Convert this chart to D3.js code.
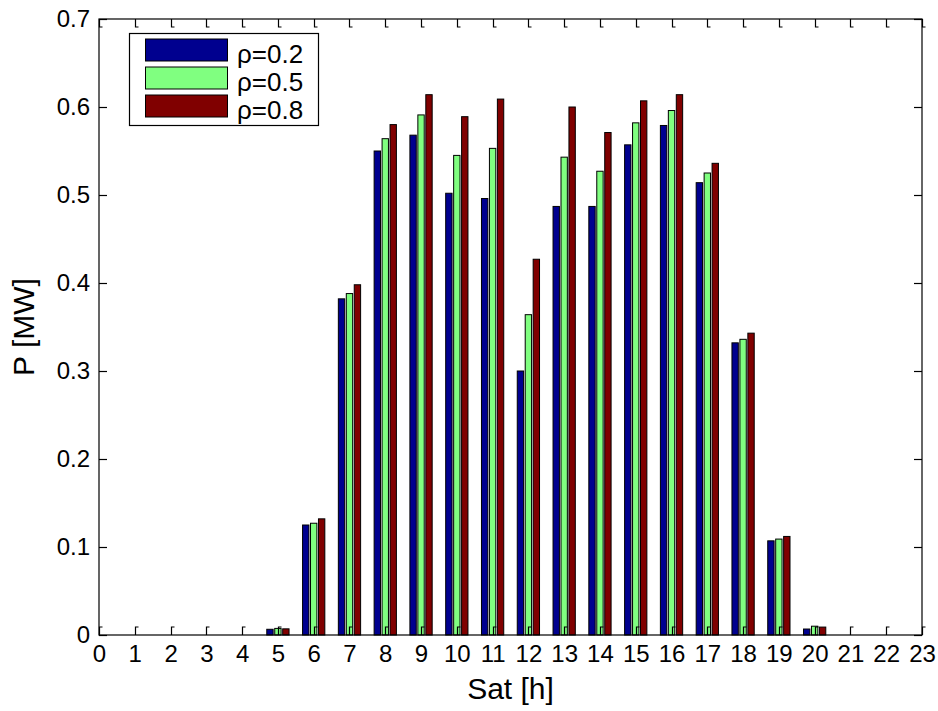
<!DOCTYPE html>
<html><head><meta charset="utf-8">
<script src="https://cdn.jsdelivr.net/npm/d3@7"></script>
<style>body{margin:0;background:#fff}svg{display:block}text{font-family:"Liberation Sans",Arial,sans-serif;fill:#000}</style>
</head><body>
<script>
const hours = [1,2,3,4,5,6,7,8,9,10,11,12,13,14,15,16,17,18,19,20,21,22];
const seriesNames = ["ρ=0.2","ρ=0.5","ρ=0.8"];
const rho02 = [0,0,0,0,0.0065,0.125,0.382,0.550,0.568,0.502,0.496,0.300,0.487,0.487,0.557,0.579,0.514,0.332,0.107,0.0068,0,0];
const rho05 = [0,0,0,0,0.0075,0.127,0.388,0.564,0.591,0.545,0.553,0.364,0.543,0.527,0.582,0.596,0.525,0.336,0.109,0.010,0,0];
const rho08 = [0,0,0,0,0.007,0.132,0.398,0.580,0.614,0.589,0.609,0.427,0.600,0.571,0.607,0.614,0.536,0.343,0.112,0.009,0,0];
const xTicks = d3.range(0,24);
const yTicks = [0,0.1,0.2,0.3,0.4,0.5,0.6,0.7];
const colors = ["#00008F","#80FF80","#800000"];

const W=938,H=711, L=99,T=19,R=922,B=635;
const svg=d3.select("body").append("svg").attr("width",W).attr("height",H);
const x=d3.scaleLinear().domain([0,23]).range([L,R]);
const y=d3.scaleLinear().domain([0,0.7]).range([B,T]);
const series=[rho02,rho05,rho08];
const step=(3/4.5)/3; // 0.2222
const bw=step*0.8;

const g=svg.append("g");
series.forEach((vals,si)=>{
  g.selectAll(null).data(hours.map((h,i)=>({h,v:vals[i]}))).enter().append("rect")
   .attr("x",d=>x(d.h+(si-1)*step-bw/2))
   .attr("width",d=>x(bw)-x(0))
   .attr("y",d=>y(d.v))
   .attr("height",d=>y(0)-y(d.v))
   .attr("fill",colors[si]).attr("stroke","#000").attr("stroke-width",1);
});

// axes box
svg.append("rect").attr("x",L).attr("y",T).attr("width",R-L).attr("height",B-T)
  .attr("fill","none").attr("stroke","#000").attr("stroke-width",1.2);

const tl=8;
const tk=svg.append("g").attr("stroke","#000").attr("stroke-width",1.2).attr("fill","none");
xTicks.forEach(t=>{
  const px=Math.round(x(t))+0.5;
  tk.append("path").attr("d",`M${px},${B}V${B-tl}h3`);
  tk.append("path").attr("d",`M${px},${T}V${T+tl}h3`);
});
yTicks.forEach(t=>{
  const py=Math.round(y(t))+0.5;
  tk.append("path").attr("d",`M${L},${py}H${L+tl}`);
  tk.append("path").attr("d",`M${R},${py}H${R-tl}`);
});

const xa=svg.append("g").attr("transform",`translate(0,${B})`)
  .call(d3.axisBottom(x).tickValues(xTicks).tickFormat(d3.format("d")).tickSize(0).tickPadding(10));
xa.select(".domain").remove();
xa.selectAll("text").attr("font-size",24).attr("font-family","Liberation Sans, Arial");
const ya=svg.append("g").attr("transform",`translate(${L},0)`)
  .call(d3.axisLeft(y).tickValues(yTicks).tickFormat(d=>d===0?"0":d3.format(".1f")(d)).tickSize(0).tickPadding(9));
ya.select(".domain").remove();
ya.selectAll("text").attr("font-size",24).attr("font-family","Liberation Sans, Arial");

svg.append("text").attr("x",(L+R)/2).attr("y",699).attr("text-anchor","middle").attr("font-size",30).text("Sat [h]");
svg.append("text").attr("transform",`translate(34,${(T+B)/2}) rotate(-90)`).attr("text-anchor","middle").attr("font-size",30).text("P [MW]");

// legend
const lg=svg.append("g");
lg.append("rect").attr("x",129.5).attr("y",33.5).attr("width",189).attr("height",92).attr("fill","#fff").attr("stroke","#000").attr("stroke-width",1.2);
seriesNames.forEach((n,i)=>{
  const cy=50+i*28;
  lg.append("rect").attr("x",145.5).attr("y",cy-11).attr("width",82).attr("height",22).attr("fill",colors[i]).attr("stroke","#000").attr("stroke-width",1);
  lg.append("text").attr("x",237).attr("y",cy+13).attr("font-size",26).text(n);
});
</script>
</body></html>
